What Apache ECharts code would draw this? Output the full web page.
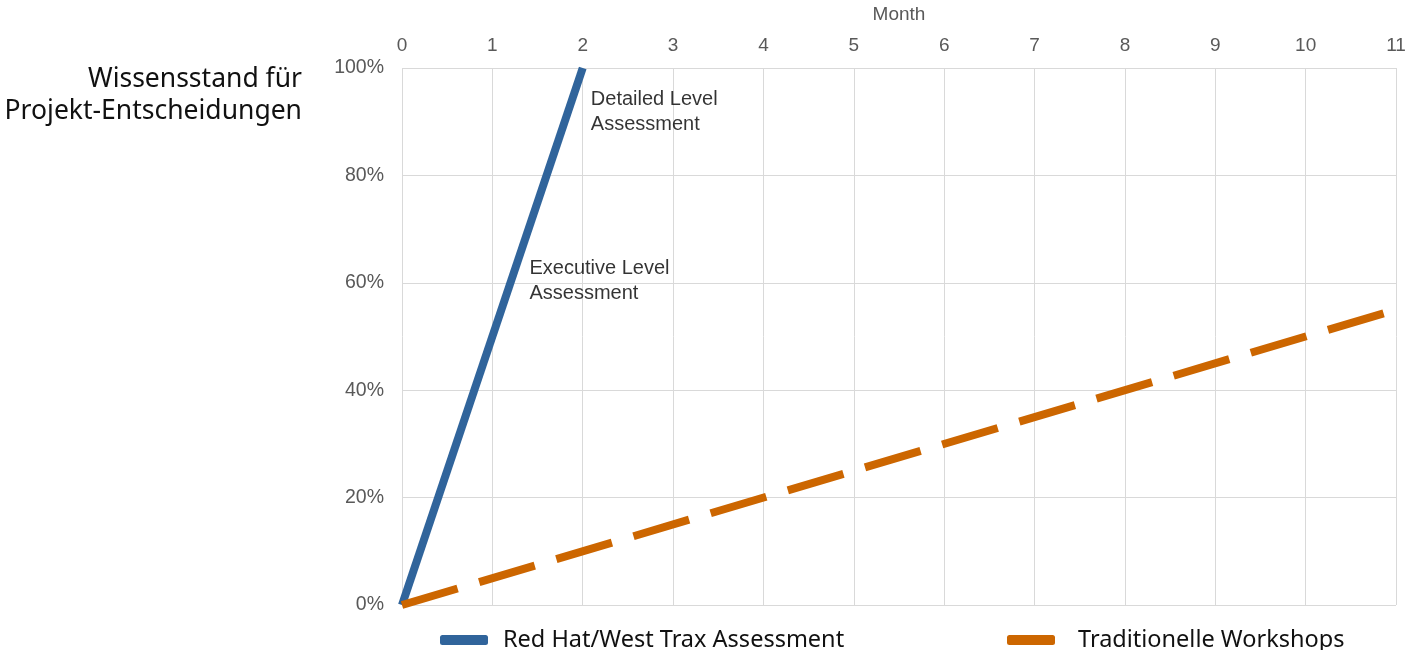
<!DOCTYPE html>
<html>
<head>
<meta charset="utf-8">
<script src="https://cdn.jsdelivr.net/npm/echarts@6/dist/echarts.min.js"></script>
<style>
html,body{margin:0;padding:0;background:#fff;}
#chart{width:1410px;height:650px;}
</style>
</head>
<body>
<div id="chart"></div>
<script>
// Data
const months = [0, 1, 2, 3, 4, 5, 6, 7, 8, 9, 10, 11];
const redHatX = [0, 2];
const redHatY = [0, 100];
const tradX = [0, 11];
const tradY = [0, 55];
const seriesNames = ['Red Hat/West Trax Assessment', 'Traditionelle Workshops'];
const annotationText = ['Detailed Level\nAssessment', 'Executive Level\nAssessment'];
const annotationX = [2.09, 1.41];
const annotationY = [91.8, 60.4];
const yTitleLines = ['Wissensstand für', 'Projekt-Entscheidungen'];
const xTitle = 'Month';

const chart = echarts.init(document.getElementById('chart'));
const axisFont = 'Liberation Sans, Arial, sans-serif';
const textFont = 'Noto Sans, sans-serif';

chart.setOption({
  animation: false,
  backgroundColor: '#fff',
  grid: {left: 402, right: 14, top: 68, bottom: 45, outerBoundsMode: 'none', containLabel: false},
  xAxis: {
    type: 'value', position: 'top', min: 0, max: 11, interval: 1,
    name: xTitle, nameLocation: 'middle', nameGap: 44,
    nameTextStyle: {color: '#595959', fontSize: 19, fontFamily: axisFont},
    axisLine: {show: false}, axisTick: {show: false},
    axisLabel: {color: '#595959', fontSize: 19, fontFamily: axisFont, margin: 13},
    splitLine: {show: true, lineStyle: {color: '#d9d9d9', width: 1}}
  },
  yAxis: {
    type: 'value', min: 0, max: 100, interval: 20,
    axisLine: {show: false}, axisTick: {show: false},
    axisLabel: {color: '#595959', fontSize: 19.5, fontFamily: axisFont, margin: 18, formatter: '{value}%'},
    splitLine: {show: true, lineStyle: {color: '#d9d9d9', width: 1}}
  },
  legend: [
    {data: [seriesNames[0]], left: 435, top: 623, itemWidth: 48, itemHeight: 10, icon: 'roundRect',
     textStyle: {color: '#111', fontSize: 23.5, fontFamily: textFont, padding: [0, 0, 0, 10]}},
    {data: [seriesNames[1]], left: 1002, top: 623, itemWidth: 48, itemHeight: 10, icon: 'roundRect',
     textStyle: {color: '#111', fontSize: 23.5, fontFamily: textFont, padding: [0, 0, 0, 18]}}
  ],
  graphic: yTitleLines.map((t, i) => ({
    type: 'text', right: 1410 - 302, top: 66 + i * 32,
    style: {text: t, fill: '#111', font: '26.5px "Noto Sans", sans-serif'}
  })),
  series: [
    {
      name: seriesNames[0], type: 'line', symbol: 'none',
      data: redHatX.map((x, i) => [x, redHatY[i]]),
      lineStyle: {color: '#30649b', width: 8},
      itemStyle: {color: '#30649b'}
    },
    {
      name: seriesNames[1], type: 'line', symbol: 'none',
      data: tradX.map((x, i) => [x, tradY[i]]),
      lineStyle: {color: '#cc6600', width: 8, type: [58, 22.5], cap: 'butt'},
      itemStyle: {color: '#cc6600'}
    },
    {
      name: 'annotations', type: 'scatter', symbolSize: 0, silent: true,
      data: annotationX.map((x, i) => ({value: [x, annotationY[i]], label: {formatter: annotationText[i]}})),
      label: {show: true, position: 'right', distance: 0, color: '#000', fontSize: 20, lineHeight: 25, fontFamily: axisFont, align: 'left'}
    }
  ]
});
</script>
</body>
</html>
